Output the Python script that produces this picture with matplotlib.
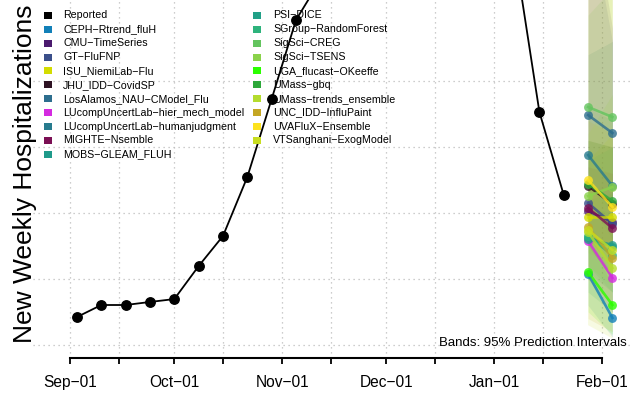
import matplotlib
matplotlib.use('Agg')
import matplotlib.pyplot as plt
import matplotlib.dates as mdates
from matplotlib.patches import Rectangle
import datetime as dt

plt.rcParams['font.family'] = ['Liberation Sans', 'DejaVu Sans']

# ---------------- data ----------------
reported_dates = ['2022-09-03', '2022-09-10', '2022-09-17', '2022-09-24', '2022-10-01',
                  '2022-10-08', '2022-10-15', '2022-10-22', '2022-10-29', '2022-11-05',
                  '2022-11-12', '2022-11-19', '2022-11-26', '2022-12-03', '2022-12-10',
                  '2022-12-17', '2022-12-24', '2022-12-31', '2023-01-07', '2023-01-14',
                  '2023-01-21']
reported_values = [212, 303, 303, 326, 348, 598, 826, 1273, 1864, 2462,
                   2765, 3600, 4400, 4800, 4500, 4300, 4100, 3700, 2960, 1765, 1136]

forecast_dates = ['2023-01-28', '2023-02-04']

model_names = ['CEPH\u2212Rtrend_fluH', 'CMU\u2212TimeSeries', 'GT\u2212FluFNP',
               'ISU_NiemiLab\u2212Flu', 'JHU_IDD\u2212CovidSP', 'LosAlamos_NAU\u2212CModel_Flu',
               'LUcompUncertLab\u2212hier_mech_model', 'LUcompUncertLab\u2212humanjudgment',
               'MIGHTE\u2212Nsemble', 'MOBS\u2212GLEAM_FLUH', 'PSI\u2212DICE',
               'SGroup\u2212RandomForest', 'SigSci\u2212CREG', 'SigSci\u2212TSENS',
               'UGA_flucast\u2212OKeeffe', 'UMass\u2212gbq', 'UMass\u2212trends_ensemble',
               'UNC_IDD\u2212InfluPaint', 'UVAFluX\u2212Ensemble', 'VTSanghani\u2212ExogModel']
model_colors = ['#1280b8', '#4b1a6e', '#3b4f8a', '#d3dc00', '#2e1223', '#2d6e8e',
                '#d42ae0', '#277b8e', '#7b0f54', '#1f9a8a', '#21a087', '#2eb37c',
                '#63c45e', '#8ad24a', '#2bff00', '#2da83a', '#b4dc2e', '#c4a623',
                '#fde21e', '#c8dd20']
median_h1 = [538, 1015, 1076, 970, 1205, 1742, 788, 1439, 1038, 803,
             818, 826, 1803, 1129, 553, 1220, 856, 894, 1250, 871]
median_h2 = [205, 932, 917, 970, 1068, 1606, 508, 1205, 886, 758,
             742, 682, 1727, 1197, 303, 1091, 583, 659, 1045, 720]
lower_h1 = [300, 800, 850, 600, 900, 1300, 500, 1100, 750, 550,
            400, 600, 1200, 700, 250, 900, 500, 200, 800, 150]
lower_h2 = [60, 600, 650, 450, 700, 1000, 250, 800, 500, 400,
            250, 400, 1000, 600, 80, 700, 300, 100, 550, 50]
upper_h1 = [800, 3500, 3300, 1400, 1550, 2200, 1100, 1800, 1350, 1100,
            1400, 1050, 2500, 1600, 900, 1550, 1250, 1700, 2900, 3000]
upper_h2 = [450, 2400, 2300, 1600, 1500, 2300, 850, 1700, 1300, 1150,
            1500, 1000, 2700, 1900, 700, 1500, 1000, 1600, 3300, 3600]

month_ticks = ['2022-09-01', '2022-10-01', '2022-11-01', '2022-12-01', '2023-01-01', '2023-02-01']
mid_ticks = ['2022-09-15', '2022-10-15', '2022-11-15', '2022-12-15', '2023-01-15']
y_grid = [0, 500, 1000, 1500, 2000]

# ---------------- figure ----------------
W, H = 632, 393
fig = plt.figure(figsize=(W / 100, H / 100), dpi=100)
ax_left, ax_bottom_px, ax_top_px = 33, 358, 0
ax = fig.add_axes([ax_left / W, (H - ax_bottom_px) / H, (W - ax_left) / W, (ax_bottom_px - ax_top_px) / H])


def d2n(s):
    return mdates.date2num(dt.datetime.strptime(s, '%Y-%m-%d'))


rx = [d2n(s) for s in reported_dates]
fx = [d2n(s) for s in forecast_dates]

px_per_day = (602 - 70) / (d2n('2023-02-01') - d2n('2022-09-01'))
x0 = d2n('2022-09-01') - (70 - ax_left) / px_per_day
x1 = d2n('2023-02-01') + (W - 602) / px_per_day
ax.set_xlim(x0, x1)
val_per_px = 500 / 66.0
ax.set_ylim((345 - ax_bottom_px) * val_per_px, (345 - ax_top_px) * val_per_px)

# grid
for g in y_grid:
    ax.axhline(g, color='#bdbdbd', lw=0.9, ls=(0, (1, 3)), zorder=0)
for s in month_ticks + mid_ticks:
    ax.axvline(d2n(s), color='#bdbdbd', lw=0.9, ls=(0, (1, 3)), zorder=0)

# bands
for i in range(len(model_names)):
    ax.fill_between(fx, [lower_h1[i], lower_h2[i]], [upper_h1[i], upper_h2[i]],
                    color=model_colors[i], alpha=0.13, lw=0, zorder=1)

# forecast medians
for i in range(len(model_names)):
    ax.plot(fx, [median_h1[i], median_h2[i]], color=model_colors[i], lw=1.9, alpha=0.8,
            marker='o', ms=6.4, mec='none', zorder=3)

# reported
ax.plot(rx, reported_values, color='black', lw=1.3, marker='o', ms=6.8, zorder=4)

# axes styling
for sp in ['top', 'right', 'left']:
    ax.spines[sp].set_visible(False)
ax.spines['bottom'].set_linewidth(1.5)
ax.spines['bottom'].set_bounds(d2n(month_ticks[0]), d2n(month_ticks[-1]))
ax.set_yticks([])
ax.set_xticks([d2n(s) for s in month_ticks])
ax.set_xticklabels([dt.datetime.strptime(s, '%Y-%m-%d').strftime('%b-%d').replace('-', '\u2212')
                    for s in month_ticks], fontsize=11.2)
ax.set_xticks([d2n(s) for s in mid_ticks], minor=True)
ax.tick_params(axis='x', which='both', length=4, width=1.3, pad=8, color='black')

fig.text(25 / W, 1 - 174 / H, 'New Weekly Hospitalizations', rotation=90,
         ha='center', va='center', fontsize=19)

ax.text((627 - ax_left) / (W - ax_left), (ax_bottom_px - 343) / (ax_bottom_px - ax_top_px),
        'Bands: 95% Prediction Intervals', transform=ax.transAxes,
        ha='right', va='center', fontsize=9.5)

# legend (two columns, drawn manually)
leg_names = ['Reported'] + model_names
leg_colors = ['black'] + model_colors
for k, (nm, c) in enumerate(zip(leg_names, leg_colors)):
    col = 0 if k < 11 else 1
    row = k if k < 11 else k - 11
    yc = 15.3 + row * 13.9
    sx = 48 if col == 0 else 257
    tx = 63 if col == 0 else 273
    fig.add_artist(Rectangle(((sx - 4) / W, 1 - (yc + 3.5) / H), 8 / W, 7 / H,
                             transform=fig.transFigure, color=c, lw=0))
    fig.text(tx / W, 1 - yc / H, nm, ha='left', va='center', fontsize=7.7)

fig.savefig('out.png', dpi=100)
